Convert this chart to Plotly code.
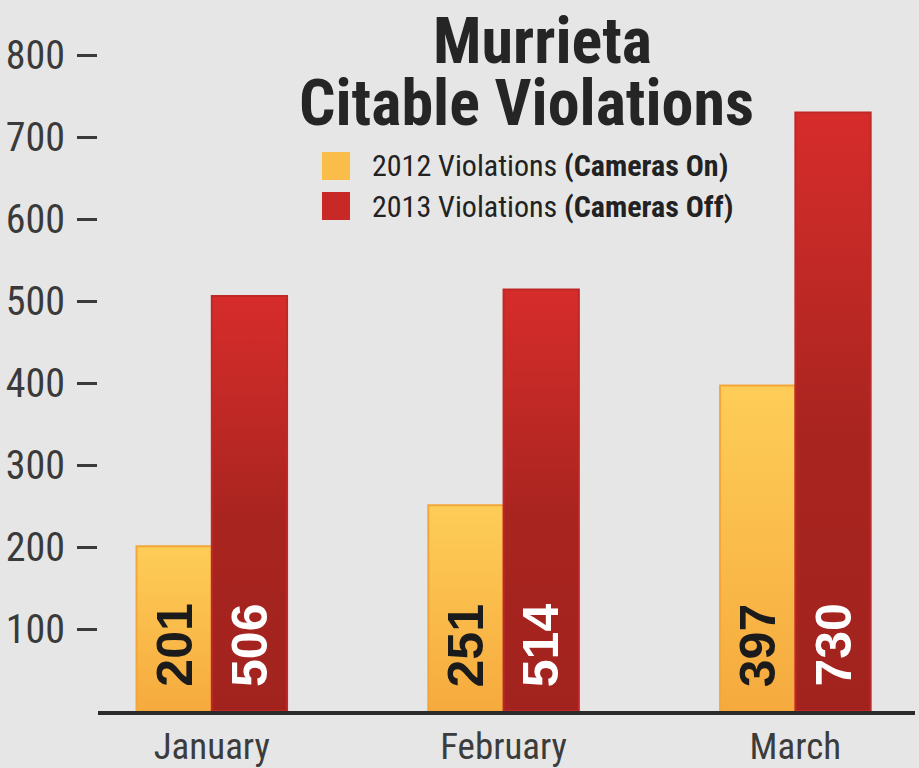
import plotly.graph_objects as go

months = ["January", "February", "March"]
series_names = ["2012 Violations", "2013 Violations"]
series_notes = ["(Cameras On)", "(Cameras Off)"]
v2012 = [201, 251, 397]
v2013 = [506, 514, 730]
y_ticks = [100, 200, 300, 400, 500, 600, 700, 800]
title_lines = ["Murrieta", "Citable Violations"]

BAR_W = 0.258
L, R, T, B = 98, 4, 14, 57
W, H = 919, 768
PW, PH = W - L - R, H - T - B

def px_x(px):
    return (px - L) / PW

def px_y(py):
    return (H - B - py) / PH

NARROW = "Liberation Sans Narrow, Arial Narrow, Roboto Condensed, Liberation Sans, sans-serif"
BOLD = "Liberation Sans, Arial, Helvetica, sans-serif"

styles = [
    dict(scale=[[0, "#f6aa3e"], [1, "#fecd58"]], line="#f3a63a",
         label="#1b1b1b", legend="#fbbd4a", offset=-1),
    dict(scale=[[0, "#a2231e"], [0.45, "#a8241f"], [0.8, "#c62a27"], [1, "#d62c2b"]],
         line="#c02826", label="#ffffff", legend="#c82826", offset=0),
]

fig = go.Figure()
annotations = []
for s, vals in enumerate([v2012, v2013]):
    st = styles[s]
    for i, v in enumerate(vals):
        x0 = i + st["offset"] * BAR_W
        x1 = x0 + BAR_W
        fig.add_trace(go.Scatter(
            x=[x0, x0, x1, x1, x0], y=[0, v, v, 0, 0],
            mode="lines", fill="toself",
            line=dict(color=st["line"], width=2),
            fillgradient=dict(type="vertical", colorscale=st["scale"], start=0, stop=v),
            name=series_names[s], showlegend=False, hoverinfo="skip",
        ))
        annotations.append(dict(
            x=x0 + BAR_W / 2, y=0, xref="x", yref="y", text="<b>%d</b>" % v,
            textangle=-90, showarrow=False, xanchor="center", yanchor="bottom",
            yshift=22, font=dict(family=BOLD, size=50, color=st["label"]),
        ))

# title
for k, (cx, cy) in enumerate([(542, 42), (526, 103)]):
    annotations.append(dict(x=px_x(cx), y=px_y(cy), xref="paper", yref="paper",
                            text="<b>%s</b>" % title_lines[k], showarrow=False,
                            xanchor="center", yanchor="middle",
                            font=dict(family=NARROW, size=64, weight=900, color="#252525")))

# legend
shapes = []
for s in range(2):
    cy = 166 + 40 * s
    shapes.append(dict(type="rect", xref="paper", yref="paper",
                       x0=px_x(322), x1=px_x(350), y0=px_y(cy - 14), y1=px_y(cy + 14),
                       fillcolor=styles[s]["legend"], line=dict(width=0)))
    annotations.append(dict(x=px_x(370), y=px_y(cy), xref="paper", yref="paper",
                            text="%s <b>%s</b>" % (series_names[s], series_notes[s]),
                            showarrow=False, xanchor="left", yanchor="middle",
                            font=dict(family=NARROW, size=30, color="#222222")))

fig.update_layout(
    width=W, height=H,
    margin=dict(l=L, r=R, t=T, b=B),
    paper_bgcolor="#e6e6e6", plot_bgcolor="#e6e6e6",
    annotations=annotations, shapes=shapes,
    showlegend=False,
)
fig.update_xaxes(range=[-0.39, 2.41], tickvals=[0, 1, 2], ticktext=months,
                 showline=True, linecolor="#2b2b2b", linewidth=4,
                 showgrid=False, zeroline=False, ticks="", automargin=False,
                 tickfont=dict(family=NARROW, size=37, color="#3c3c3c"))
fig.update_yaxes(range=[0, 850], tickvals=y_ticks,
                 showline=False, showgrid=False, zeroline=False,
                 ticks="outside", ticklen=20, tickwidth=3, tickcolor="#3a3a3a",
                 ticklabelstandoff=4, automargin=False,
                 tickfont=dict(family=NARROW, size=40, color="#3a3a3a"))

fig.write_html("out.html", config={"displayModeBar": False},
               post_script="document.body.style.margin='0px';"
                           "document.body.style.background='#e6e6e6';")
